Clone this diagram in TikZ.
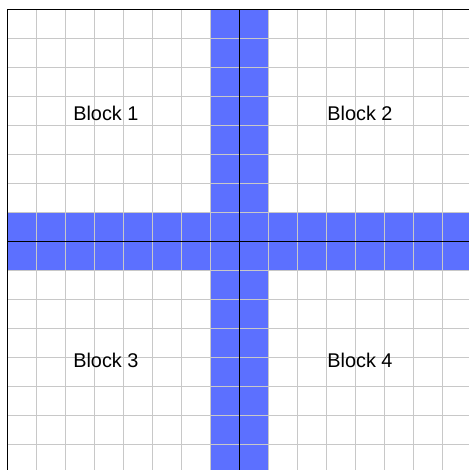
\documentclass[tikz,border=0pt]{standalone}
\usepackage{fontspec}
\setmainfont{Liberation Sans}
\definecolor{bandblue}{RGB}{92,112,255}
\definecolor{gridgray}{RGB}{200,200,200}
\tikzset{
  band/.style={fill=bandblue, draw=none},
  gridline/.style={draw=gridgray, line width=0.8pt},
  axisline/.style={draw=black, line width=1.2pt},
  blocklabel/.style={font=\fontsize{19.5}{22}\selectfont, inner sep=0pt}
}
\begin{document}
\begin{tikzpicture}
\useasboundingbox (-8.252,-7.873) rectangle (7.920,8.334);
\clip (-8.252,-7.873) rectangle (7.920,8.334);
\fill[white] (-8.252,-7.873) rectangle (7.920,8.334);
\fill[band] (-1,-8) rectangle (1,8);
\fill[band] (-8,-1) rectangle (8,1);
\draw[gridline] (-8,-8) grid[step=1] (8,8);
\draw[axisline] (-8,0) -- (8,0);
\draw[axisline] (0,-8) -- (0,8);
\draw[draw=black, line width=1.2pt] (-8,-8) rectangle (8,8);
\node[blocklabel] (b1) at (-4.6,4.44) {Block 1};
\node[blocklabel] (b2) at (4.16,4.44) {Block 2};
\node[blocklabel] (b3) at (-4.6,-4.08) {Block 3};
\node[blocklabel] (b4) at (4.16,-4.08) {Block 4};
\end{tikzpicture}
\end{document}
